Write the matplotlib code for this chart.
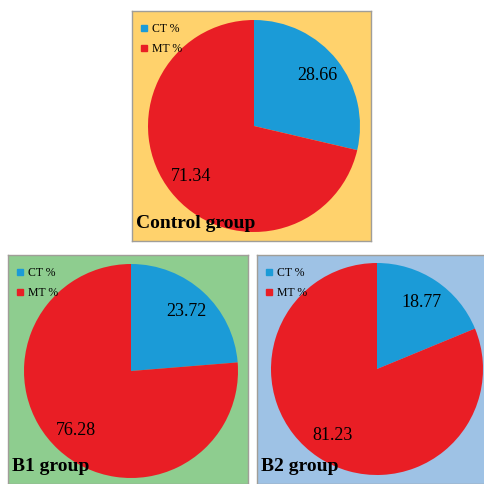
import matplotlib.pyplot as plt
from matplotlib.lines import Line2D

# data
groups = ['Control group', 'B1 group', 'B2 group']
ct_pct = [28.66, 23.72, 18.77]
mt_pct = [71.34, 76.28, 81.23]
legend_labels = ['CT %', 'MT %']

slice_colors = ['#1B9BD7', '#E91E25']
panel_colors = ['#FFD26C', '#8ECD8F', '#9EC2E5']

# panel boxes in pixels: x0, y0, x1, y1 and pie centre / radius
W, H = 485, 484
panels = [(132, 11, 371, 241), (8, 255, 248, 484), (257, 255, 485, 484)]
centres = [(254, 126), (131, 371), (377, 369)]
radii = [106, 107, 106]

plt.rcParams['font.family'] = ['Liberation Serif', 'DejaVu Serif']

fig = plt.figure(figsize=(W / 100, H / 100), dpi=100)

for i in range(3):
    x0, y0, x1, y1 = panels[i]
    w, h = x1 - x0, y1 - y0
    ax = fig.add_axes([x0 / W, 1 - y1 / H, w / W, h / H])
    ax.set_facecolor(panel_colors[i])
    for sp in ax.spines.values():
        sp.set_color('#A09E98')
        sp.set_linewidth(1.0)

    cx, cy = centres[i]
    ax.pie([ct_pct[i], mt_pct[i]], colors=slice_colors, startangle=90,
           counterclock=False, center=(cx - x0, y1 - cy), radius=radii[i],
           autopct='%.2f', pctdistance=0.76, frame=True,
           textprops={'fontsize': 13, 'color': 'black'})
    ax.set_xlim(0, w)
    ax.set_ylim(0, h)
    ax.set_aspect('auto')
    ax.set_xticks([])
    ax.set_yticks([])

    handles = [Line2D([], [], marker='s', linestyle='none', markersize=5,
                      color=c) for c in slice_colors]
    ax.legend(handles, legend_labels, loc='upper left',
              bbox_to_anchor=(0, 1 - 5 / h),
              frameon=False, fontsize=8.5, handlelength=0.8, handletextpad=0.3,
              labelspacing=0.7, borderaxespad=0.3, borderpad=0.3)

    ax.text(4, 13, groups[i], fontsize=14, fontweight='bold', va='baseline',
            ha='left', color='black')

fig.savefig('out.png', dpi=100)
